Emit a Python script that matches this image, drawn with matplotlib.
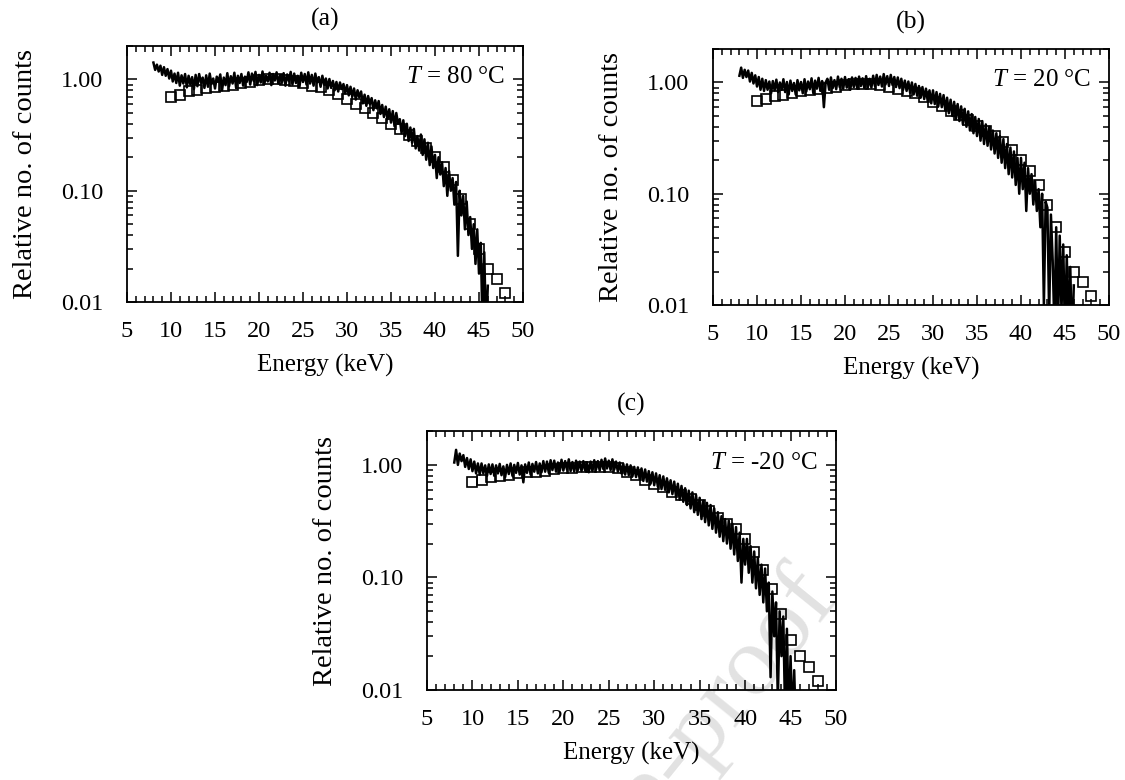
import numpy as np
import matplotlib
matplotlib.use("Agg")
import matplotlib.pyplot as plt
from matplotlib.ticker import MultipleLocator, LogLocator, FixedLocator, NullFormatter

plt.rcParams['font.family'] = ['Liberation Serif', 'DejaVu Serif']
plt.rcParams['mathtext.fontset'] = 'custom'
plt.rcParams['mathtext.rm'] = 'Liberation Serif'
plt.rcParams['mathtext.it'] = 'Liberation Serif:italic'

# ---------------- data ----------------
# measured spectra, energies 8.0 keV upward in 0.2 keV steps
spec_a = [
    1.42, 1.22, 1.36, 1.18, 1.33,
    1.10, 1.29, 1.08, 1.24, 1.02,
    1.20, 0.96, 1.13, 0.93, 1.15,
    0.88, 1.09, 0.92, 1.12, 0.85,
    1.08, 0.90, 1.05, 0.82, 1.10,
    0.87, 1.12, 0.94, 1.04, 0.84,
    1.09, 0.86, 1.13, 0.91, 1.02,
    0.83, 1.06, 0.95, 1.11, 0.80,
    1.04, 0.89, 1.14, 0.87, 1.07,
    0.92, 1.15, 0.84, 1.08, 0.93,
    1.12, 0.88, 1.06, 0.95, 1.16,
    0.90, 1.13, 0.97, 1.17, 0.89,
    1.10, 0.94, 1.18, 0.91, 1.08,
    0.96, 1.15, 0.89, 1.12, 0.98,
    1.16, 0.92, 1.09, 0.95, 1.14,
    0.88, 1.11, 0.97, 1.17, 0.90,
    1.13, 0.93, 1.08, 0.86, 1.15,
    0.95, 1.12, 0.90, 1.16, 0.92,
    1.10, 0.88, 1.13, 0.94, 1.05,
    0.86, 1.08, 0.90, 1.02, 0.83,
    1.01, 0.84, 0.97, 0.80, 0.95,
    0.78, 0.94, 0.82, 0.91, 0.75,
    0.89, 0.72, 0.86, 0.70, 0.83,
    0.66, 0.80, 0.69, 0.78, 0.61,
    0.73, 0.58, 0.71, 0.60, 0.68,
    0.53, 0.65, 0.55, 0.64, 0.49,
    0.59, 0.46, 0.57, 0.44, 0.54,
    0.41, 0.52, 0.38, 0.50, 0.40,
    0.44, 0.33, 0.43, 0.31, 0.40,
    0.28, 0.37, 0.27, 0.36, 0.24,
    0.31, 0.23, 0.32, 0.21, 0.29,
    0.19, 0.27, 0.17, 0.25, 0.16,
    0.21, 0.13, 0.20, 0.14, 0.18,
    0.11, 0.16, 0.09, 0.15, 0.10,
    0.13, 0.075, 0.12, 0.026, 0.10,
    0.06, 0.09, 0.045, 0.08, 0.04,
    0.058, 0.03, 0.05, 0.022, 0.045,
    0.018, 0.034, 0.006, 0.028, 0.005,
    0.014,
]

spec_b = [
    1.15, 1.36, 1.10, 1.30, 1.12,
    1.28, 1.02, 1.22, 0.98, 1.16,
    0.92, 1.12, 0.86, 1.08, 0.84,
    1.05, 0.86, 1.02, 0.80, 1.03,
    0.85, 1.06, 0.82, 1.00, 0.86,
    1.07, 0.82, 1.01, 0.78, 1.04,
    0.84, 0.99, 0.78, 1.05, 0.85,
    1.01, 0.80, 1.07, 0.83, 1.02,
    0.87, 1.09, 0.80, 1.04, 0.88,
    1.10, 0.84, 1.03, 0.60, 1.00,
    1.08, 0.86, 1.11, 0.89, 1.05,
    0.87, 1.13, 0.91, 1.08, 0.88,
    1.12, 0.90, 1.07, 0.86, 1.11,
    0.91, 1.10, 0.88, 1.13, 0.93,
    1.09, 0.89, 1.14, 0.91, 1.08,
    0.90, 1.15, 0.93, 1.17, 0.95,
    1.13, 0.92, 1.19, 0.96, 1.14,
    0.93, 1.17, 0.95, 1.12, 0.91,
    1.11, 0.89, 1.08, 0.86, 1.04,
    0.84, 1.02, 0.81, 1.00, 0.78,
    0.97, 0.76, 0.93, 0.73, 0.91,
    0.71, 0.88, 0.68, 0.85, 0.65,
    0.85, 0.64, 0.82, 0.61, 0.79,
    0.60, 0.77, 0.56, 0.73, 0.53,
    0.70, 0.50, 0.67, 0.47, 0.64,
    0.45, 0.61, 0.42, 0.58, 0.40,
    0.55, 0.37, 0.52, 0.35, 0.49,
    0.33, 0.47, 0.30, 0.45, 0.28,
    0.42, 0.27, 0.40, 0.25, 0.37,
    0.23, 0.35, 0.21, 0.33, 0.19,
    0.31, 0.17, 0.28, 0.15, 0.26,
    0.14, 0.24, 0.12, 0.21, 0.10,
    0.21, 0.11, 0.19, 0.07, 0.17,
    0.10, 0.15, 0.08, 0.13, 0.07,
    0.11, 0.05, 0.10, 0.01, 0.085,
    0.075, 0.008, 0.065, 0.025, 0.006,
    0.05, 0.006, 0.042, 0.009, 0.035,
    0.005, 0.028, 0.006, 0.022, 0.004,
    0.015,
]

spec_c = [
    1.05, 1.36, 1.00, 1.26, 1.08,
    1.22, 0.96, 1.15, 0.92, 1.12,
    0.88, 1.07, 0.84, 1.03, 0.82,
    1.03, 0.84, 0.99, 0.80, 1.01,
    0.83, 1.01, 0.80, 0.99, 0.84,
    1.02, 0.81, 0.97, 0.78, 1.00,
    0.83, 1.03, 0.80, 1.00, 0.85,
    1.04, 0.82, 0.99, 0.70, 1.01,
    0.85, 1.05, 0.82, 1.02, 0.87,
    1.06, 0.84, 1.03, 0.86, 1.08,
    0.87, 1.07, 0.85, 1.10, 0.90,
    1.09, 0.87, 1.05, 0.88, 1.11,
    0.89, 1.08, 0.91, 1.12, 0.88,
    1.06, 0.87, 1.09, 0.90, 1.07,
    0.88, 1.08, 0.89, 1.05, 0.86,
    1.07, 0.88, 1.10, 0.91, 1.08,
    0.89, 1.11, 0.92, 1.14, 0.93,
    1.09, 0.90, 1.12, 0.91, 1.07,
    0.87, 1.05, 0.84, 1.02, 0.82,
    1.01, 0.81, 0.99, 0.79, 0.96,
    0.78, 0.95, 0.75, 0.93, 0.72,
    0.91, 0.71, 0.88, 0.68, 0.86,
    0.66, 0.84, 0.64, 0.81, 0.61,
    0.79, 0.60, 0.76, 0.57, 0.73,
    0.55, 0.71, 0.52, 0.68, 0.49,
    0.65, 0.47, 0.62, 0.44, 0.59,
    0.41, 0.57, 0.38, 0.54, 0.36,
    0.51, 0.33, 0.48, 0.31, 0.46,
    0.29, 0.44, 0.27, 0.41, 0.25,
    0.38, 0.23, 0.35, 0.21, 0.33,
    0.20, 0.32, 0.18, 0.30, 0.16,
    0.28, 0.14, 0.25, 0.09, 0.22,
    0.13, 0.22, 0.11, 0.19, 0.09,
    0.17, 0.08, 0.15, 0.07, 0.13,
    0.06, 0.12, 0.05, 0.09, 0.013,
    0.075, 0.03, 0.06, 0.008, 0.05,
    0.02, 0.045, 0.006, 0.035, 0.005,
    0.02, 0.005, 0.015, 0.004,
]

# square markers (calculated spectrum) at 10 .. 48 keV
sq_energy = list(range(10, 49))
sq_a = [0.70, 0.73, 0.78, 0.80, 0.83, 0.86, 0.88, 0.90, 0.93, 0.95,
        0.98, 1.00, 1.00, 0.99, 0.97, 0.93, 0.88, 0.85, 0.80, 0.74,
        0.67, 0.60, 0.55, 0.50, 0.45, 0.40, 0.36, 0.32, 0.28, 0.24,
        0.20, 0.165, 0.125, 0.085, 0.050, 0.030, 0.020, 0.016, 0.012]
sq_b = [0.68, 0.71, 0.75, 0.77, 0.80, 0.83, 0.85, 0.87, 0.90, 0.92,
        0.95, 0.96, 0.97, 0.96, 0.95, 0.92, 0.88, 0.84, 0.80, 0.74,
        0.67, 0.61, 0.56, 0.51, 0.46, 0.41, 0.37, 0.33, 0.29, 0.245,
        0.20, 0.16, 0.12, 0.08, 0.05, 0.03, 0.020, 0.016, 0.012]
sq_c = [0.70, 0.73, 0.78, 0.79, 0.82, 0.84, 0.86, 0.87, 0.89, 0.91,
        0.93, 0.94, 0.95, 0.96, 0.96, 0.95, 0.93, 0.86, 0.81, 0.73,
        0.67, 0.63, 0.58, 0.54, 0.50, 0.44, 0.39, 0.34, 0.30, 0.27,
        0.22, 0.17, 0.117, 0.079, 0.047, 0.028, 0.020, 0.016, 0.012]

panel_labels = ["(a)", "(b)", "(c)"]
temps = ["80", "20", "-20"]
x_ticks = [5, 10, 15, 20, 25, 30, 35, 40, 45, 50]
y_ticks = [0.01, 0.10, 1.00]
y_ticklabels = ["0.01", "0.10", "1.00"]

spec_start = 8.0
spec_step = 0.2

# ---------------- figure ----------------
fig = plt.figure(figsize=(11.25, 7.8), dpi=100)
W, H = 1125, 780
boxes = [(127, 46, 523, 302), (713, 49, 1109, 305), (427, 431, 836, 690)]
specs = [spec_a, spec_b, spec_c]
sqs = [sq_a, sq_b, sq_c]

fig.text(840 / W, 1 - 600 / H, "Journal Pre-proof", fontsize=72,
         color='#e2e2e2', rotation=51, rotation_mode='anchor',
         ha='right', va='baseline', zorder=-5)

TICK_FS = 17.5
for i, (l, t, r, b) in enumerate(boxes):
    ax = fig.add_axes([l / W, 1 - b / H, (r - l) / W, (b - t) / H])
    ax.set_facecolor('none')
    y = np.array(specs[i])
    x = spec_start + spec_step * np.arange(len(y))
    ax.plot(x, y, color='black', lw=1.8, zorder=3)
    ax.plot(sq_energy, sqs[i], linestyle='none', marker='s', ms=6.5,
            mfc='none', mec='black', mew=1.2, zorder=2)
    ax.set_yscale('log')
    ax.set_xlim(5, 50)
    ax.set_ylim(0.01, 2.0)
    ax.xaxis.set_major_locator(FixedLocator(x_ticks))
    ax.xaxis.set_minor_locator(MultipleLocator(1))
    ax.yaxis.set_major_locator(FixedLocator(y_ticks))
    ax.set_yticklabels(y_ticklabels)
    ax.yaxis.set_minor_locator(LogLocator(base=10, subs=np.arange(2, 10)))
    ax.yaxis.set_minor_formatter(NullFormatter())
    ax.tick_params(which='both', direction='in', top=True, right=True,
                   labelsize=TICK_FS, width=1.1)
    ax.tick_params(which='major', length=7)
    ax.tick_params(which='minor', length=4)
    ax.tick_params(axis='y', which='major', pad=17)
    ax.tick_params(axis='x', which='major', pad=14)
    for s in ax.spines.values():
        s.set_linewidth(1.3)
    ax.set_xlabel("Energy (keV)", fontsize=18, labelpad=8)
    ax.set_ylabel("Relative no. of counts", fontsize=20.5, labelpad=17)
    ax.set_title(panel_labels[i], fontsize=18.5, pad=15)
    ax.text(0.955, 0.92, "$T$ = " + temps[i] + " °C", transform=ax.transAxes,
            ha='right', va='top', fontsize=18)

fig.savefig("out.png", dpi=100)
